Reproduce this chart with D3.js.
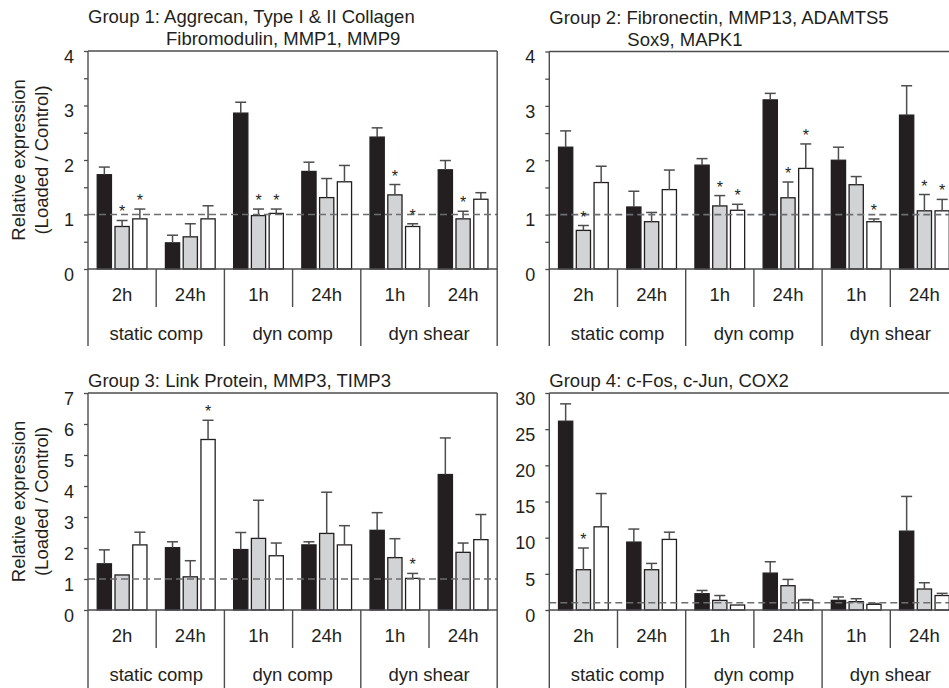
<!DOCTYPE html>
<html>
<head>
<meta charset="utf-8">
<script src="https://cdn.jsdelivr.net/npm/d3@7"></script>
<style>
  body { margin: 0; background: #fff; }
  svg text { font-family: "Liberation Sans", Arial, sans-serif; fill: #231f20; }
</style>
</head>
<body>
<div id="chartDiv"></div>
<script>
// category labels
const timePoints = ["2h", "24h", "1h", "24h", "1h", "24h"];
const conditions = ["static comp", "dyn comp", "dyn shear"];

// rows = time point, columns = [black, gray, white]
const g1Mean = [[1.73, 0.78, 0.92], [0.48, 0.59, 0.92], [2.86, 0.98, 1.02], [1.79, 1.31, 1.60], [2.42, 1.36, 0.78], [1.82, 0.92, 1.28]];
const g1Err  = [[0.14, 0.11, 0.18], [0.14, 0.24, 0.24], [0.20, 0.12, 0.08], [0.17, 0.35, 0.30], [0.17, 0.19, 0.05], [0.17, 0.14, 0.12]];
const g1Stars = [[0, 1], [0, 2], [2, 1], [2, 2], [4, 1], [4, 2], [5, 1]];

const g2Mean = [[2.24, 0.71, 1.59], [1.14, 0.87, 1.46], [1.91, 1.16, 1.08], [3.11, 1.31, 1.85], [2.00, 1.55, 0.87], [2.83, 1.07, 1.07]];
const g2Err  = [[0.30, 0.09, 0.30], [0.29, 0.17, 0.36], [0.12, 0.19, 0.11], [0.12, 0.29, 0.45], [0.24, 0.15, 0.05], [0.54, 0.30, 0.21]];
const g2Stars = [[0, 1], [2, 1], [2, 2], [3, 1], [3, 2], [4, 2], [5, 1], [5, 2]];

const g3Mean = [[1.49, 1.13, 2.10], [2.01, 1.07, 5.50], [1.95, 2.31, 1.75], [2.10, 2.47, 2.10], [2.57, 1.69, 1.02], [4.37, 1.86, 2.27]];
const g3Err  = [[0.45, 0.00, 0.41], [0.19, 0.52, 0.62], [0.55, 1.23, 0.41], [0.10, 1.33, 0.62], [0.57, 0.61, 0.16], [1.18, 0.30, 0.81]];
const g3Stars = [[1, 2], [4, 2]];

const g4Mean = [[26.1, 5.57, 11.5], [9.39, 5.57, 9.76], [2.25, 1.33, 0.69], [5.10, 3.36, 1.38], [1.33, 1.15, 0.78], [10.9, 2.90, 2.00]];
const g4Err  = [[2.4, 3.0, 4.6], [1.8, 0.87, 1.0], [0.45, 0.67, 0.0], [1.57, 0.87, 0.07], [0.47, 0.41, 0.12], [4.8, 0.87, 0.30]];
const g4Stars = [[0, 1]];

const g1Ticks = d3.range(0, 4.01, 0.5);
const g2Ticks = d3.range(0, 4.01, 0.5);
const g3Ticks = d3.range(0, 7.01, 1);
const g4Ticks = d3.range(0, 30.01, 5);

const g1Title = ["Group 1: Aggrecan, Type I & II Collagen", "Fibromodulin, MMP1, MMP9"];
const g2Title = ["Group 2: Fibronectin, MMP13, ADAMTS5", "Sox9, MAPK1"];
const g3Title = ["Group 3: Link Protein, MMP3, TIMP3"];
const g4Title = ["Group 4: c-Fos, c-Jun, COX2"];

const fills = ["#231f20", "#d1d3d4", "#ffffff"];
const lineColor = "#4d4d4f";
const fontSize = 18.5;

const panels = [
  {title: g1Title, mean: g1Mean, err: g1Err, stars: g1Stars, ticks: g1Ticks, yMax: 4,  left: 88,    top: 51,  base: 269, catBottom: 346, ylabel: true},
  {title: g2Title, mean: g2Mean, err: g2Err, stars: g2Stars, ticks: g2Ticks, yMax: 4,  left: 549.3, top: 51.5, base: 269, catBottom: 346, ylabel: false},
  {title: g3Title, mean: g3Mean, err: g3Err, stars: g3Stars, ticks: g3Ticks, yMax: 7,  left: 88,    top: 393, base: 610, catBottom: 690, ylabel: true},
  {title: g4Title, mean: g4Mean, err: g4Err, stars: g4Stars, ticks: g4Ticks, yMax: 30, left: 549.3, top: 393, base: 610, catBottom: 690, ylabel: false}
];

const groupW = 68.2;

const svg = d3.select("#chartDiv").append("svg")
    .attr("width", 949)
    .attr("height", 688);

panels.forEach(p => {
  const g = svg.append("g");
  const right = p.left + 6 * groupW;

  const x = d3.scaleBand().domain(d3.range(6)).range([p.left, right]);
  const xi = d3.scaleBand().domain([0, 1, 2]).range([0, groupW])
      .paddingInner(0.2).paddingOuter(0.52);
  const y = d3.scaleLinear().domain([0, p.yMax]).range([p.base, p.top]);

  const cells = p.mean.flatMap((row, i) => row.map((v, j) => ({i, j, v, e: p.err[i][j]})));
  const cx = d => x(d.i) + xi(d.j) + xi.bandwidth() / 2;

  // bars
  g.append("g")
    .selectAll("rect")
    .data(cells)
    .join("rect")
      .attr("x", d => x(d.i) + xi(d.j))
      .attr("y", d => y(d.v))
      .attr("width", xi.bandwidth())
      .attr("height", d => p.base - y(d.v))
      .attr("fill", d => fills[d.j])
      .attr("stroke", "#231f20")
      .attr("stroke-width", 1.3);

  // error bars
  const eb = g.append("g")
      .attr("stroke", lineColor)
      .attr("stroke-width", 1.5)
      .selectAll("g")
      .data(cells.filter(d => d.e > 0))
      .join("g");
  eb.append("line")
      .attr("x1", cx).attr("x2", cx)
      .attr("y1", d => y(d.v)).attr("y2", d => y(d.v + d.e));
  eb.append("line")
      .attr("x1", d => cx(d) - 5.5).attr("x2", d => cx(d) + 5.5)
      .attr("y1", d => y(d.v + d.e)).attr("y2", d => y(d.v + d.e));

  // reference line at 1
  g.append("line")
      .attr("x1", p.left).attr("x2", right)
      .attr("y1", y(1)).attr("y2", y(1))
      .attr("stroke", "#6d6e71")
      .attr("stroke-width", 1.6)
      .attr("stroke-dasharray", "7,4");

  // significance stars
  g.append("g")
    .selectAll("text")
    .data(p.stars.map(([i, j]) => ({i, j, v: p.mean[i][j], e: p.err[i][j]})))
    .join("text")
      .attr("x", cx)
      .attr("y", d => y(d.v + d.e) - 3)
      .attr("text-anchor", "middle")
      .attr("font-size", 16)
      .text("*");

  // frame and category separators
  const frame = g.append("g").attr("stroke", lineColor).attr("stroke-width", 1.4);
  frame.append("line").attr("x1", p.left).attr("x2", p.left).attr("y1", p.top).attr("y2", p.catBottom);
  frame.append("line").attr("x1", right).attr("x2", right).attr("y1", p.top).attr("y2", p.catBottom);
  frame.append("line").attr("x1", p.left).attr("x2", right).attr("y1", p.top).attr("y2", p.top);
  frame.append("line").attr("x1", p.left).attr("x2", right).attr("y1", p.base).attr("y2", p.base);
  frame.selectAll(".sep")
    .data(d3.range(1, 6))
    .join("line")
      .attr("x1", i => x(i)).attr("x2", i => x(i))
      .attr("y1", p.base)
      .attr("y2", i => i % 2 ? p.base + 38 : p.catBottom);

  // y axis
  const axis = g.append("g")
      .attr("transform", `translate(${p.left},0)`)
      .call(d3.axisLeft(y)
        .tickValues(p.ticks)
        .tickSize(4)
        .tickPadding(10)
        .tickFormat(d => Number.isInteger(d) ? d : ""));
  axis.select(".domain").remove();
  axis.selectAll(".tick line").attr("stroke", lineColor).attr("stroke-width", 1.3);
  axis.selectAll(".tick text")
      .attr("font-size", 18)
      .attr("font-family", null)
      .attr("dy", "0.62em");

  // category labels
  g.append("g")
    .selectAll("text")
    .data(timePoints)
    .join("text")
      .attr("x", (d, i) => x(i) + x.bandwidth() / 2)
      .attr("y", p.base + 32)
      .attr("text-anchor", "middle")
      .attr("font-size", fontSize)
      .text(d => d);
  g.append("g")
    .selectAll("text")
    .data(conditions)
    .join("text")
      .attr("x", (d, k) => x(2 * k) + x.bandwidth())
      .attr("y", p.base + 71)
      .attr("text-anchor", "middle")
      .attr("font-size", fontSize)
      .text(d => d);

  // title
  g.append("g")
    .selectAll("text")
    .data(p.title)
    .join("text")
      .attr("x", (d, k) => p.left + (k ? 78 : 0))
      .attr("y", (d, k) => p.top - (p.title.length - k) * 22 + 16)
      .attr("font-size", fontSize)
      .text(d => d);

  // y label
  if (p.ylabel) {
    const my = (p.top + p.base) / 2;
    g.append("text")
      .attr("transform", `translate(25,${my}) rotate(-90)`)
      .attr("text-anchor", "middle")
      .attr("font-size", fontSize)
      .text("Relative expression");
    g.append("text")
      .attr("transform", `translate(47.5,${my}) rotate(-90)`)
      .attr("text-anchor", "middle")
      .attr("font-size", fontSize)
      .text("(Loaded / Control)");
  }
});
</script>
</body>
</html>
